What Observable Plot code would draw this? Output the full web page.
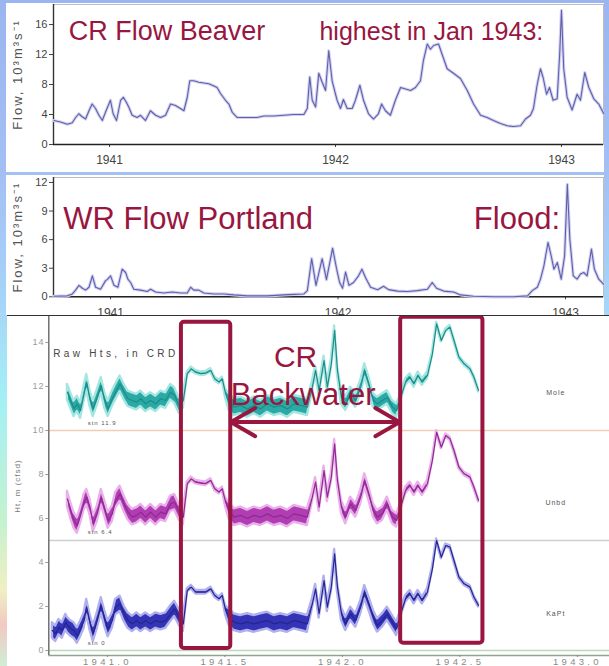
<!DOCTYPE html>
<html><head><meta charset="utf-8">
<script src="https://cdn.jsdelivr.net/npm/d3@7"></script>
<script src="https://cdn.jsdelivr.net/npm/@observablehq/plot@0.6"></script>
<style>
html,body{margin:0;padding:0;}
body{width:609px;height:666px;overflow:hidden;position:relative;font-family:'Liberation Sans',Arial,sans-serif;
background:linear-gradient(to bottom,#9bb5f0 0px,#a3bff4 170px,#a6d4f8 300px,#a4f0f6 400px,#c4f2cf 520px,#f0efc2 590px,#f2c9c3 625px,#cfeed4 666px);}
.panel{position:absolute;background:#fff;}
#p1{left:6px;top:3px;width:598px;height:169px;}
#p2{left:6px;top:175px;width:598px;height:140px;}
#p3{left:7px;top:314.5px;width:602px;height:350px;border-top:1.5px solid #333;}
.panel svg{display:block;}
</style>
</head><body>
<div class="panel" id="p1"></div>
<div class="panel" id="p2"></div>
<div class="panel" id="p3"></div>
<script>
// ---------- data ----------
const yearTicks = [1941, 1942, 1943];
const beaverTicks = [0, 4, 8, 12, 16];
const portlandTicks = [0, 3, 6, 9, 12];
const htTicksY = [0, 2, 4, 6, 8, 10, 12, 14];
const htTicksX = [1941, 1941.5, 1942, 1942.5, 1943];

// Columbia River flow at Beaver (10^3 m^3/s)
const beaverYear = [1940.754,1940.783,1940.813,1940.835,1940.850,1940.864,1940.879,1940.894,1940.909,1940.923,
1940.938,1940.953,1940.968,1940.982,1940.997,1941.004,1941.016,1941.031,1941.049,1941.061,
1941.075,1941.085,1941.100,1941.122,1941.137,1941.159,1941.181,1941.204,1941.226,1941.248,
1941.270,1941.292,1941.314,1941.329,1941.344,1941.355,1941.373,1941.395,1941.417,1941.439,
1941.462,1941.476,1941.491,1941.513,1941.528,1941.543,1941.565,1941.594,1941.624,1941.653,
1941.683,1941.727,1941.771,1941.816,1941.860,1941.875,1941.886,1941.897,1941.912,1941.926,
1941.941,1941.956,1941.970,1941.985,1942.007,1942.022,1942.035,1942.052,1942.074,1942.088,
1942.108,1942.124,1942.146,1942.168,1942.190,1942.204,1942.221,1942.243,1942.265,1942.288,
1942.310,1942.332,1942.354,1942.376,1942.389,1942.406,1942.420,1942.434,1942.456,1942.472,
1942.494,1942.522,1942.553,1942.583,1942.611,1942.642,1942.671,1942.699,1942.730,1942.760,
1942.788,1942.819,1942.841,1942.863,1942.876,1942.892,1942.907,1942.919,1942.934,1942.947,
1942.963,1942.981,1942.992,1943.000,1943.010,1943.025,1943.047,1943.069,1943.084,1943.103,
1943.121,1943.143,1943.165,1943.187];
const beaverFlow = [3.2,3.0,2.7,2.9,3.6,4.1,3.7,3.4,4.5,5.4,
4.8,3.9,3.2,4.3,5.4,5.9,4.1,3.2,5.9,6.3,
5.6,5.0,3.9,3.6,3.9,3.2,4.5,3.9,3.6,3.9,
5.4,5.2,4.8,4.5,6.3,8.5,8.5,8.3,8.2,8.1,
7.8,7.6,6.8,5.9,5.4,4.3,3.6,3.6,3.6,3.6,
3.8,3.8,3.9,4.0,4.0,4.8,9.0,5.9,5.0,9.5,
8.3,7.2,12.5,8.5,5.9,4.8,6.0,4.8,4.8,5.9,
7.9,5.9,4.1,3.4,4.1,5.4,4.5,3.9,5.9,7.6,
7.4,7.2,7.6,8.5,11.2,13.4,12.7,13.2,13.4,12.0,
10.1,9.5,8.8,7.2,5.4,3.9,3.6,3.2,2.8,2.5,
2.4,2.5,3.4,3.9,4.8,7.9,10.1,8.9,6.7,7.6,
5.9,6.1,12.0,17.9,10.1,6.3,4.6,6.7,5.9,9.6,
7.6,6.1,5.4,4.1];

// Willamette River flow at Portland (10^3 m^3/s)
const wrYear = [1940.751,1940.810,1940.832,1940.846,1940.861,1940.876,1940.890,1940.905,1940.920,1940.934,
1940.956,1940.978,1940.985,1941.000,1941.015,1941.032,1941.051,1941.066,1941.076,1941.088,
1941.102,1941.132,1941.161,1941.176,1941.198,1941.234,1941.271,1941.308,1941.337,1941.352,
1941.366,1941.388,1941.410,1941.454,1941.498,1941.542,1941.601,1941.689,1941.762,1941.806,
1941.850,1941.865,1941.884,1941.903,1941.930,1941.949,1941.976,1941.993,1942.007,1942.020,
1942.033,1942.048,1942.068,1942.090,1942.105,1942.121,1942.143,1942.174,1942.200,1942.222,
1942.262,1942.305,1942.349,1942.393,1942.414,1942.433,1942.464,1942.508,1942.538,1942.596,
1942.684,1942.771,1942.833,1942.854,1942.876,1942.890,1942.905,1942.923,1942.937,1942.949,
1942.964,1942.981,1942.996,1943.008,1943.019,1943.034,1943.051,1943.066,1943.080,1943.095,
1943.114,1943.127,1943.146,1943.168];
const wrFlow = [0.05,0.1,0.3,0.7,1.2,0.9,0.7,1.0,2.2,1.0,
0.8,1.7,1.8,2.2,1.2,1.0,2.9,2.55,1.85,1.5,
0.8,0.7,0.55,0.8,0.5,0.4,0.5,0.4,0.4,1.0,
0.7,0.7,0.4,0.3,0.3,0.2,0.1,0.1,0.2,0.25,
0.3,0.65,4.0,1.2,4.0,1.8,5.1,3.0,1.5,0.9,
2.6,1.2,1.5,2.2,2.9,2.0,1.0,0.75,1.1,0.75,
0.6,0.55,0.65,0.8,1.5,0.9,0.6,0.5,0.2,0.05,
0,0,0.1,0.65,1.0,1.85,3.25,5.7,4.3,2.9,
3.6,1.85,4.3,11.8,6.05,2.2,1.85,2.4,2.55,2.2,
5.0,2.9,1.85,1.3];

// Raw heights in CRD (offset stations)
const htYear = [1940.766,1940.780,1940.794,1940.808,1940.823,1940.830,1940.844,1940.858,1940.872,1940.886,
1940.901,1940.912,1940.926,1940.940,1940.957,1940.974,1940.989,1941.003,1941.021,1941.035,
1941.054,1941.071,1941.088,1941.106,1941.125,1941.142,1941.163,1941.184,1941.206,1941.227,
1941.248,1941.269,1941.286,1941.305,1941.323,1941.340,1941.357,1941.376,1941.397,1941.418,
1941.440,1941.457,1941.475,1941.489,1941.503,1941.518,1941.539,1941.567,1941.596,1941.624,
1941.652,1941.681,1941.709,1941.737,1941.766,1941.794,1941.823,1941.851,1941.872,1941.886,
1941.901,1941.922,1941.936,1941.953,1941.967,1941.979,1941.996,1942.014,1942.035,1942.057,
1942.078,1942.095,1942.113,1942.132,1942.149,1942.170,1942.191,1942.213,1942.231,1942.248,
1942.269,1942.288,1942.305,1942.322,1942.340,1942.362,1942.383,1942.401,1942.421,1942.440,
1942.458,1942.475,1942.496,1942.518,1942.543,1942.560,1942.579];
const moleHt = [null,null,null,null,null,11.74,11.36,10.98,11.21,10.9,
11.67,12.2,11.44,10.98,11.5,12.05,11.36,10.98,11.44,11.74,
12.12,11.74,11.44,11.36,11.29,11.44,11.21,11.36,11.21,11.44,
11.36,11.74,11.59,11.14,11.36,12.58,12.8,12.65,12.58,12.6,
12.73,12.35,12.2,12.35,11.67,11.29,11.06,11.14,10.98,11.14,
10.98,11.21,11.06,11.14,10.98,11.21,11.14,11.06,11.97,12.73,
11.82,13.18,11.97,13.03,14.55,12.73,11.5,11.21,11.67,11.36,
11.97,12.73,12.12,11.36,11.21,11.36,11.5,11.06,10.9,11.5,
12.2,12.42,12.12,12.5,12.2,12.5,13.48,14.85,14.09,14.55,
14.7,14.09,13.33,13.03,12.8,12.42,11.82];
const unbdHt = [null,null,null,null,null,6.89,6.36,5.91,5.68,6.14,
6.74,6.97,6.52,5.76,6.21,6.97,6.44,5.91,6.21,6.82,
7.12,6.67,6.29,6.06,6.14,6.29,6.06,6.29,6.06,6.29,
6.21,6.67,6.74,6.29,6.06,7.58,7.8,7.65,7.61,7.58,
7.73,7.35,7.2,7.35,6.74,6.36,6.06,6.14,6.0,6.14,
6.06,6.21,6.06,6.14,6.0,6.21,6.14,6.06,6.97,7.65,
6.52,8.18,6.97,7.88,9.39,7.73,6.52,6.06,6.67,6.36,
6.97,7.73,7.12,6.36,6.06,6.21,6.67,6.06,5.91,6.52,
7.27,7.5,7.2,7.5,7.2,7.58,8.64,9.92,9.24,9.77,
9.62,9.09,8.33,8.03,7.88,7.42,6.82];
const kaptHt = [0.91,0.76,1.06,0.91,1.29,1.15,1.0,0.91,0.68,0.98,
1.36,1.97,1.29,0.76,1.36,2.05,1.44,0.98,1.36,1.97,
2.12,1.67,1.36,1.21,1.36,1.21,1.36,1.21,1.36,1.29,
1.36,1.67,1.89,1.52,1.21,2.73,2.88,2.65,2.65,2.65,
2.8,2.5,2.35,2.5,1.82,1.52,1.29,1.21,1.29,1.21,
1.29,1.36,1.21,1.29,1.21,1.36,1.29,1.21,2.12,2.8,
1.67,3.18,1.97,2.88,4.39,2.88,1.67,1.21,1.67,1.36,
1.97,2.65,2.12,1.52,1.14,1.36,1.67,1.29,0.98,1.67,
2.35,2.58,2.27,2.58,2.27,2.65,3.71,5.0,4.24,4.77,
4.7,4.09,3.33,3.03,2.88,2.42,2.05];
// half of the visible tidal band width
const tidalHalfRange = [0.35,0.35,0.35,0.35,0.35,0.35,0.35,0.35,0.35,0.35,
0.35,0.35,0.35,0.35,0.35,0.35,0.35,0.35,0.35,0.35,
0.35,0.35,0.35,0.35,0.35,0.35,0.35,0.35,0.35,0.35,
0.35,0.35,0.35,0.35,0.35,0.08,0.08,0.08,0.08,0.08,
0.08,0.08,0.08,0.08,0.2,0.38,0.38,0.38,0.38,0.38,
0.38,0.38,0.38,0.38,0.38,0.38,0.38,0.38,0.22,0.2,
0.2,0.2,0.2,0.2,0.2,0.2,0.3,0.3,0.3,0.3,
0.3,0.3,0.3,0.3,0.3,0.3,0.3,0.3,0.3,0.15,
0.15,0.15,0.15,0.15,0.15,0.15,0.07,0.07,0.07,0.07,
0.07,0.07,0.07,0.07,0.07,0.07,0.07];
const stationNames = ["Mole", "Unbd", "KaPt"];
const stationTags = ["stn 11.9", "stn 6.4", "stn 0"];
// backwater windows (year) and the span between them
const backwaterBoxes = [
  {start: 1941.315, end: 1941.525, bottom: 0.09, top: 14.92},
  {start: 1942.248, end: 1942.598, bottom: 0.33, top: 15.15}
];
const backwaterSpan = {start: 1941.525, end: 1942.244, level: 10.38};

// ---------- drawing ----------
const font = "'Liberation Sans', Arial, Helvetica, sans-serif";
const red = "#98163f";

// Panel 1
const x1Dom = [1940.752, 1943.186], y1Dom = [0, 18.67];
const beaver = beaverYear.map((t, i) => ({t, q: beaverFlow[i]}));
const p1 = Plot.plot({
  width: 598, height: 169, marginLeft: 47, marginRight: 1, marginTop: 1, marginBottom: 28,
  style: {fontFamily: font, background: "transparent"},
  x: {domain: x1Dom}, y: {domain: y1Dom},
  marks: [
    Plot.frame({stroke: "#bdbdbd"}),
    Plot.axisY({ticks: beaverTicks, tickSize: 4, tickPadding: 2, fontSize: 11, color: "#444", label: null}),
    Plot.axisX({ticks: yearTicks, tickFormat: d => String(d), tickSize: 3, tickPadding: 8, fontSize: 12, color: "#444", label: null}),
    Plot.ruleX([x1Dom[0]], {stroke: "#333", strokeWidth: 1.4}),
    Plot.ruleY([0], {stroke: "#222", strokeWidth: 1.6}),
    Plot.line(beaver, {x: "t", y: "q", stroke: "#d2d2f2", strokeWidth: 3.2}),
    Plot.line(beaver, {x: "t", y: "q", stroke: "#6060aa", strokeWidth: 1.1}),
    Plot.text(["CR Flow Beaver"], {x: 1940.819, y: 13.87, textAnchor: "start", lineAnchor: "bottom", fontSize: 27, fill: red}),
    Plot.text(["highest in Jan 1943:"], {x: 1941.929, y: 13.87, textAnchor: "start", lineAnchor: "bottom", fontSize: 25, fill: red}),
    Plot.text(["Flow, 10³m³s⁻¹"], {frameAnchor: "left", textAnchor: "middle", dx: -36, rotate: -90, fontSize: 13, fill: "#555"})
  ]
});
d3.select(p1).selectAll("text").filter(function(){ return this.textContent.startsWith("Flow,"); }).attr("letter-spacing", 2);
document.getElementById("p1").appendChild(p1);

// Panel 2
const x2Dom = [1940.749, 1943.167], y2Dom = [0, 12.52];
const portland = wrYear.map((t, i) => ({t, q: wrFlow[i]}));
const p2 = Plot.plot({
  width: 598, height: 140, marginLeft: 47, marginRight: 1, marginTop: 2, marginBottom: 18.7,
  style: {fontFamily: font, background: "transparent", overflow: "visible"},
  x: {domain: x2Dom}, y: {domain: y2Dom},
  marks: [
    Plot.frame({stroke: "#bdbdbd"}),
    Plot.axisY({ticks: portlandTicks, tickSize: 4, tickPadding: 2, fontSize: 11, color: "#444", label: null}),
    Plot.axisX({ticks: yearTicks, tickFormat: d => String(d), tickSize: 3, tickPadding: 9, fontSize: 12, color: "#444", label: null}),
    Plot.ruleX([x2Dom[0]], {stroke: "#333", strokeWidth: 1.4}),
    Plot.ruleY([0], {stroke: "#222", strokeWidth: 1.6}),
    Plot.line(portland, {x: "t", y: "q", stroke: "#d2d2f2", strokeWidth: 3.2}),
    Plot.line(portland, {x: "t", y: "q", stroke: "#6060aa", strokeWidth: 1.1}),
    Plot.text(["WR Flow Portland"], {x: 1940.792, y: 7.09, textAnchor: "start", lineAnchor: "bottom", fontSize: 31, fill: red}),
    Plot.text(["Flood:"], {x: 1942.597, y: 7.09, textAnchor: "start", lineAnchor: "bottom", fontSize: 31, fill: red}),
    Plot.text(["Flow, 10³m³s⁻¹"], {frameAnchor: "left", textAnchor: "middle", dx: -36, rotate: -90, fontSize: 13, fill: "#555"})
  ]
});
d3.select(p2).selectAll("text").filter(function(){ return this.textContent.startsWith("Flow,"); }).attr("letter-spacing", 2);
document.getElementById("p2").appendChild(p2);

// Panel 3
const x3Dom = [1940.7507, 1943.1366], y3Dom = [-0.227, 15.18];
const ht = htYear.map((t, i) => ({t, mole: moleHt[i], unbd: unbdHt[i], kapt: kaptHt[i], h: tidalHalfRange[i]}));
function band(key, main, halo, core) {
  const rows = ht.map(d => {
    const v = d[key];
    const ok = v != null;
    return {t: d.t, v: ok ? v : NaN, lo: ok ? v - d.h : NaN, hi: ok ? v + d.h : NaN};
  });
  return [
    Plot.areaY(rows, {x: "t", y1: "lo", y2: "hi", fill: main, stroke: halo, strokeWidth: 2.4, curve: "linear"}),
    Plot.line(rows, {x: "t", y: "v", stroke: core, strokeWidth: 1.2})
  ];
}
const mid = (backwaterSpan.start + backwaterSpan.end) / 2;
const p3 = Plot.plot({
  width: 602, height: 350, marginLeft: 41.3, marginRight: 0, marginTop: 0, marginBottom: 11,
  style: {fontFamily: font, background: "transparent"},
  x: {domain: x3Dom}, y: {domain: y3Dom},
  marks: [
    Plot.ruleY([10], {stroke: "#f0cdb6", strokeWidth: 1.3}),
    Plot.ruleY([5], {stroke: "#cfcfcf", strokeWidth: 1.3}),
    Plot.ruleY([0], {stroke: "#bcd6bc", strokeWidth: 1.5}),
    Plot.ruleY([y3Dom[0]], {stroke: "#8ea48e", strokeWidth: 1.4}),
    Plot.ruleX([x3Dom[0]], {stroke: "#666", strokeWidth: 1.4}),
    Plot.axisY({ticks: htTicksY, tickSize: 3, tickPadding: 1, fontSize: 9, color: "#9a9a9a", label: null}),
    Plot.axisX({ticks: htTicksX, tickFormat: d => d.toFixed(1), tickSize: 2, tickPadding: 1, fontSize: 9.5, color: "#8a8a8a", label: null}),
    ...band("mole", "#2aa9a5", "#a6e6e2", "#1d8c89"),
    ...band("unbd", "#b13db3", "#eab0eb", "#8c2a90"),
    ...band("kapt", "#3434b6", "#b0b0ee", "#25258f"),
    Plot.text(["Raw Hts, in CRD"], {x: 1940.770, y: 13.5, textAnchor: "start", fontSize: 10, fill: "#444"}),
    Plot.text(stationNames, {x: 1942.908, y: [11.7, 6.7, 1.68], fontSize: 7, fill: "#555"}),
    Plot.text(stationTags, {x: 1940.916, y: [10.33, 5.38, 0.33], textAnchor: "start", fontSize: 6, fill: "#555"}),
    Plot.text(["Ht, m (cfsd)"], {frameAnchor: "left", textAnchor: "middle", dx: -31, rotate: -90, fontSize: 8, fill: "#777"}),
    Plot.rect(backwaterBoxes, {x1: "start", x2: "end", y1: "bottom", y2: "top", fill: "none", stroke: red, strokeWidth: 4, rx: 3}),
    Plot.arrow([{a: mid, b: backwaterSpan.start}, {a: mid, b: backwaterSpan.end}],
      {x1: "a", x2: "b", y1: backwaterSpan.level, y2: backwaterSpan.level, stroke: red, strokeWidth: 4, headLength: 13, headAngle: 60}),
    Plot.text(["CR"], {x: 1941.801, y: 12.88, lineAnchor: "bottom", fontSize: 30, fill: red}),
    Plot.text(["Backwater"], {x: 1941.833, y: 11.14, lineAnchor: "bottom", fontSize: 31, fill: red})
  ]
});
d3.select(p3).selectAll('g[aria-label="x-axis tick label"]').attr("letter-spacing", 3.3);
d3.select(p3).selectAll('g[aria-label="y-axis tick label"]').attr("letter-spacing", 1.2);
d3.select(p3).selectAll("text").filter(function(){ return this.textContent === "Raw Hts, in CRD"; }).attr("letter-spacing", 3.3);
d3.select(p3).selectAll("text").filter(function(){ return stationNames.includes(this.textContent) || stationTags.includes(this.textContent) || this.textContent === "Ht, m (cfsd)"; }).attr("letter-spacing", 1);
document.getElementById("p3").appendChild(p3);
</script>
</body></html>
